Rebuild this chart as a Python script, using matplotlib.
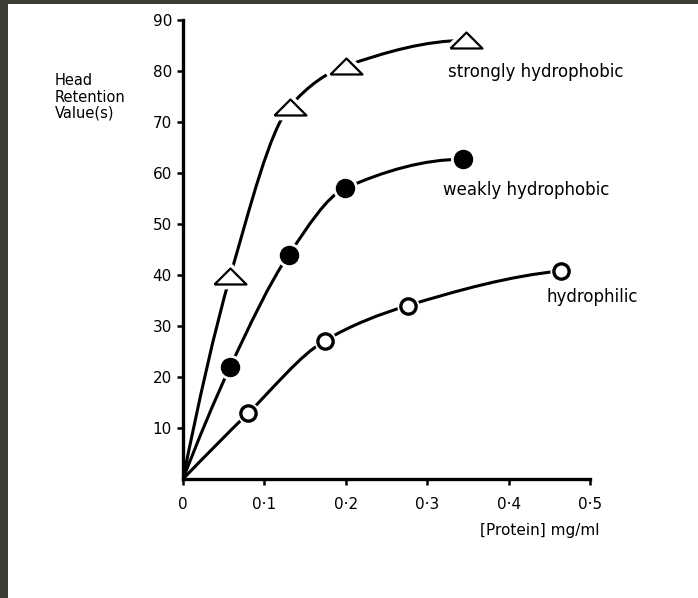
from matplotlib import pyplot as plt
from matplotlib.path import Path
from matplotlib.patches import PathPatch, Rectangle
import numpy as np

# values
strong_x = [0.0, 0.058, 0.131, 0.200, 0.348]
strong_y = [0.0, 39.8, 73.0, 81.0, 86.0]
weak_x = [0.0, 0.058, 0.130, 0.199, 0.344]
weak_y = [0.0, 22.0, 44.0, 57.0, 62.7]
philic_x = [0.0, 0.080, 0.174, 0.276, 0.464]
philic_y = [0.0, 12.9, 27.1, 34.0, 40.8]

series_names = ["strongly hydrophobic", "weakly hydrophobic", "hydrophilic"]
xticks = [0, 0.1, 0.2, 0.3, 0.4, 0.5]
xtick_labels = ["0", "0\u00b71", "0\u00b72", "0\u00b73", "0\u00b74", "0\u00b75"]
yticks = [10, 20, 30, 40, 50, 60, 70, 80, 90]

plt.rcParams['font.family'] = ['DejaVu Sans']


def smooth_path(xs, ys):
    # piecewise cubic bezier with pchip-style slopes (keeps the curve monotone)
    x = np.asarray(xs, float)
    y = np.asarray(ys, float)
    h = np.diff(x)
    d = np.diff(y) / h
    n = len(x)
    m = np.zeros(n)
    for i in range(1, n - 1):
        w1 = 2 * h[i] + h[i - 1]
        w2 = h[i] + 2 * h[i - 1]
        m[i] = (w1 + w2) / (w1 / d[i - 1] + w2 / d[i])
    m[0] = ((2 * h[0] + h[1]) * d[0] - h[0] * d[1]) / (h[0] + h[1])
    m[-1] = ((2 * h[-1] + h[-2]) * d[-1] - h[-1] * d[-2]) / (h[-1] + h[-2])
    m[-1] = max(m[-1], 0)
    verts = [(x[0], y[0])]
    codes = [Path.MOVETO]
    for i in range(n - 1):
        verts += [(x[i] + h[i] / 3, y[i] + m[i] * h[i] / 3),
                  (x[i + 1] - h[i] / 3, y[i + 1] - m[i + 1] * h[i] / 3),
                  (x[i + 1], y[i + 1])]
        codes += [Path.CURVE4] * 3
    return Path(verts, codes)


fig = plt.figure(figsize=(6.98, 5.98), dpi=100)
fig.patch.set_facecolor('#3d3d35')
fig.patches.append(Rectangle((8 / 698, 0), 1, 1 - 4 / 598, transform=fig.transFigure,
                             facecolor='white', edgecolor='none', zorder=-1))

ax = fig.add_axes([183 / 698, 1 - 479 / 598, 407 / 698, 459 / 598])
ax.set_facecolor('none')

tri = [(-1, -0.5), (1, -0.5), (0, 0.5), (-1, -0.5)]

for xs, ys in [(strong_x, strong_y), (weak_x, weak_y), (philic_x, philic_y)]:
    ax.add_patch(PathPatch(smooth_path(xs, ys), facecolor='none', edgecolor='black',
                           lw=2.2, zorder=2, capstyle='butt'))

# white halos leave a gap between line and marker
ax.plot(strong_x[1:], strong_y[1:], ls='none', marker=tri, ms=27, mfc='white', mec='white', mew=5, zorder=3)
ax.plot(weak_x[1:], weak_y[1:], ls='none', marker='o', ms=13, mfc='white', mec='white', mew=5, zorder=3)
ax.plot(philic_x[1:], philic_y[1:], ls='none', marker='o', ms=11, mfc='white', mec='white', mew=5, zorder=3)

ax.plot(strong_x[1:], strong_y[1:], ls='none', marker=tri, ms=23, mfc='white', mec='black', mew=1.6, zorder=4)
ax.plot(weak_x[1:], weak_y[1:], ls='none', marker='o', ms=13, mfc='black', mec='black', zorder=4)
ax.plot(philic_x[1:], philic_y[1:], ls='none', marker='o', ms=11, mfc='white', mec='black', mew=2.4, zorder=4)

ax.text(0.326, 79.8, series_names[0], fontsize=12, va='center', ha='left')
ax.text(0.319, 56.7, series_names[1], fontsize=12, va='center', ha='left')
ax.text(0.447, 35.7, series_names[2], fontsize=12, va='center', ha='left')

ax.set_xlim(0, 0.5)
ax.set_ylim(0, 90)
ax.spines['top'].set_visible(False)
ax.spines['right'].set_visible(False)
ax.spines['left'].set_linewidth(2.4)
ax.spines['bottom'].set_linewidth(2.4)
ax.set_xticks(xticks)
ax.set_xticklabels(xtick_labels)
ax.set_yticks(yticks)
ax.tick_params(direction='out', length=4, width=1.8, labelsize=11, pad=9)
ax.tick_params(axis='y', pad=4)

fig.text(55 / 698, 1 - 97 / 598, "Head\nRetention\nValue(s)", fontsize=10.5,
         ha='left', va='center', linespacing=1.1)
fig.text(600 / 698, 1 - 531 / 598, "[Protein] mg/ml", fontsize=11, ha='right', va='center')

fig.savefig('out.png', dpi=100)
